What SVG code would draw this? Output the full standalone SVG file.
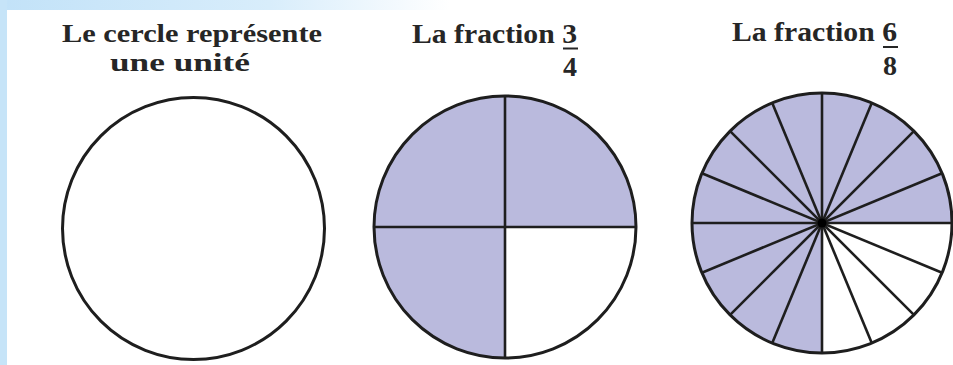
<svg xmlns="http://www.w3.org/2000/svg" width="953" height="365" viewBox="0 0 953 365">
  <style>
    .title { font-family: "Liberation Serif", "Times New Roman", serif; font-weight: bold; font-size: 28px; fill: #262626; }
    .title2 { font-family: "Liberation Serif", "Times New Roman", serif; font-weight: bold; font-size: 26px; fill: #262626; }
    .ring { fill: none; stroke: #1e1e1e; stroke-width: 3; }
    .shade { fill: #babadd; stroke: none; }
    .spoke { stroke: #1e1e1e; stroke-width: 2.6; stroke-linecap: butt; }
  </style>
  <defs>
    <linearGradient id="topband" x1="0" y1="0" x2="1" y2="0">
      <stop offset="0" stop-color="#c2e2f8"/>
      <stop offset="0.6" stop-color="#d8edfb"/>
      <stop offset="1" stop-color="#ffffff"/>
    </linearGradient>
  </defs>
  <rect x="0" y="0" width="953" height="365" fill="#ffffff"/>
  <rect x="0" y="0" width="450" height="10" fill="url(#topband)"/>
  <rect x="0" y="0" width="7" height="365" fill="#c6e4f8"/>

  <g id="unit-circle">
    <text class="title2" x="62" y="42" textLength="260" lengthAdjust="spacingAndGlyphs">Le cercle représente</text>
    <text class="title2" x="110" y="71" textLength="140" lengthAdjust="spacingAndGlyphs">une unité</text>
    <circle class="ring" cx="193.5" cy="228.5" r="131"/>
  </g>

  <g id="fraction-3-4">
    <text class="title" x="412" y="43" textLength="165" lengthAdjust="spacingAndGlyphs">La fraction 3</text>
    <line x1="563" y1="48.5" x2="578" y2="48.5" stroke="#262626" stroke-width="2"/>
    <text class="title" x="577" y="76" text-anchor="end">4</text>
    <path class="shade" d="M505,227 L505,358 A131,131 0 1 1 636,227 Z"/>
    <line class="spoke" x1="374" y1="227" x2="636" y2="227"/>
    <line class="spoke" x1="505" y1="96" x2="505" y2="358"/>
    <circle class="ring" cx="505" cy="227" r="131"/>
  </g>

  <g id="fraction-6-8">
    <text class="title" x="732" y="41" textLength="165" lengthAdjust="spacingAndGlyphs">La fraction 6</text>
    <line x1="883" y1="47" x2="898" y2="47" stroke="#262626" stroke-width="2"/>
    <text class="title" x="897" y="75" text-anchor="end">8</text>
    <path class="shade" d="M822,223 L822,353 A130,130 0 1 1 952,223 Z"/>
    <g>
      <line class="spoke" x1="692" y1="223" x2="952" y2="223"/>
      <line class="spoke" x1="701.9" y1="173.25" x2="942.1" y2="272.75"/>
      <line class="spoke" x1="730.08" y1="131.08" x2="913.92" y2="314.92"/>
      <line class="spoke" x1="772.25" y1="102.9" x2="871.75" y2="343.1"/>
      <line class="spoke" x1="822" y1="93" x2="822" y2="353"/>
      <line class="spoke" x1="871.75" y1="102.9" x2="772.25" y2="343.1"/>
      <line class="spoke" x1="913.92" y1="131.08" x2="730.08" y2="314.92"/>
      <line class="spoke" x1="942.1" y1="173.25" x2="701.9" y2="272.75"/>
    </g>
    <circle cx="822" cy="223" r="4.5" fill="#000000"/>
    <circle class="ring" cx="822" cy="223" r="130"/>
  </g>
</svg>
